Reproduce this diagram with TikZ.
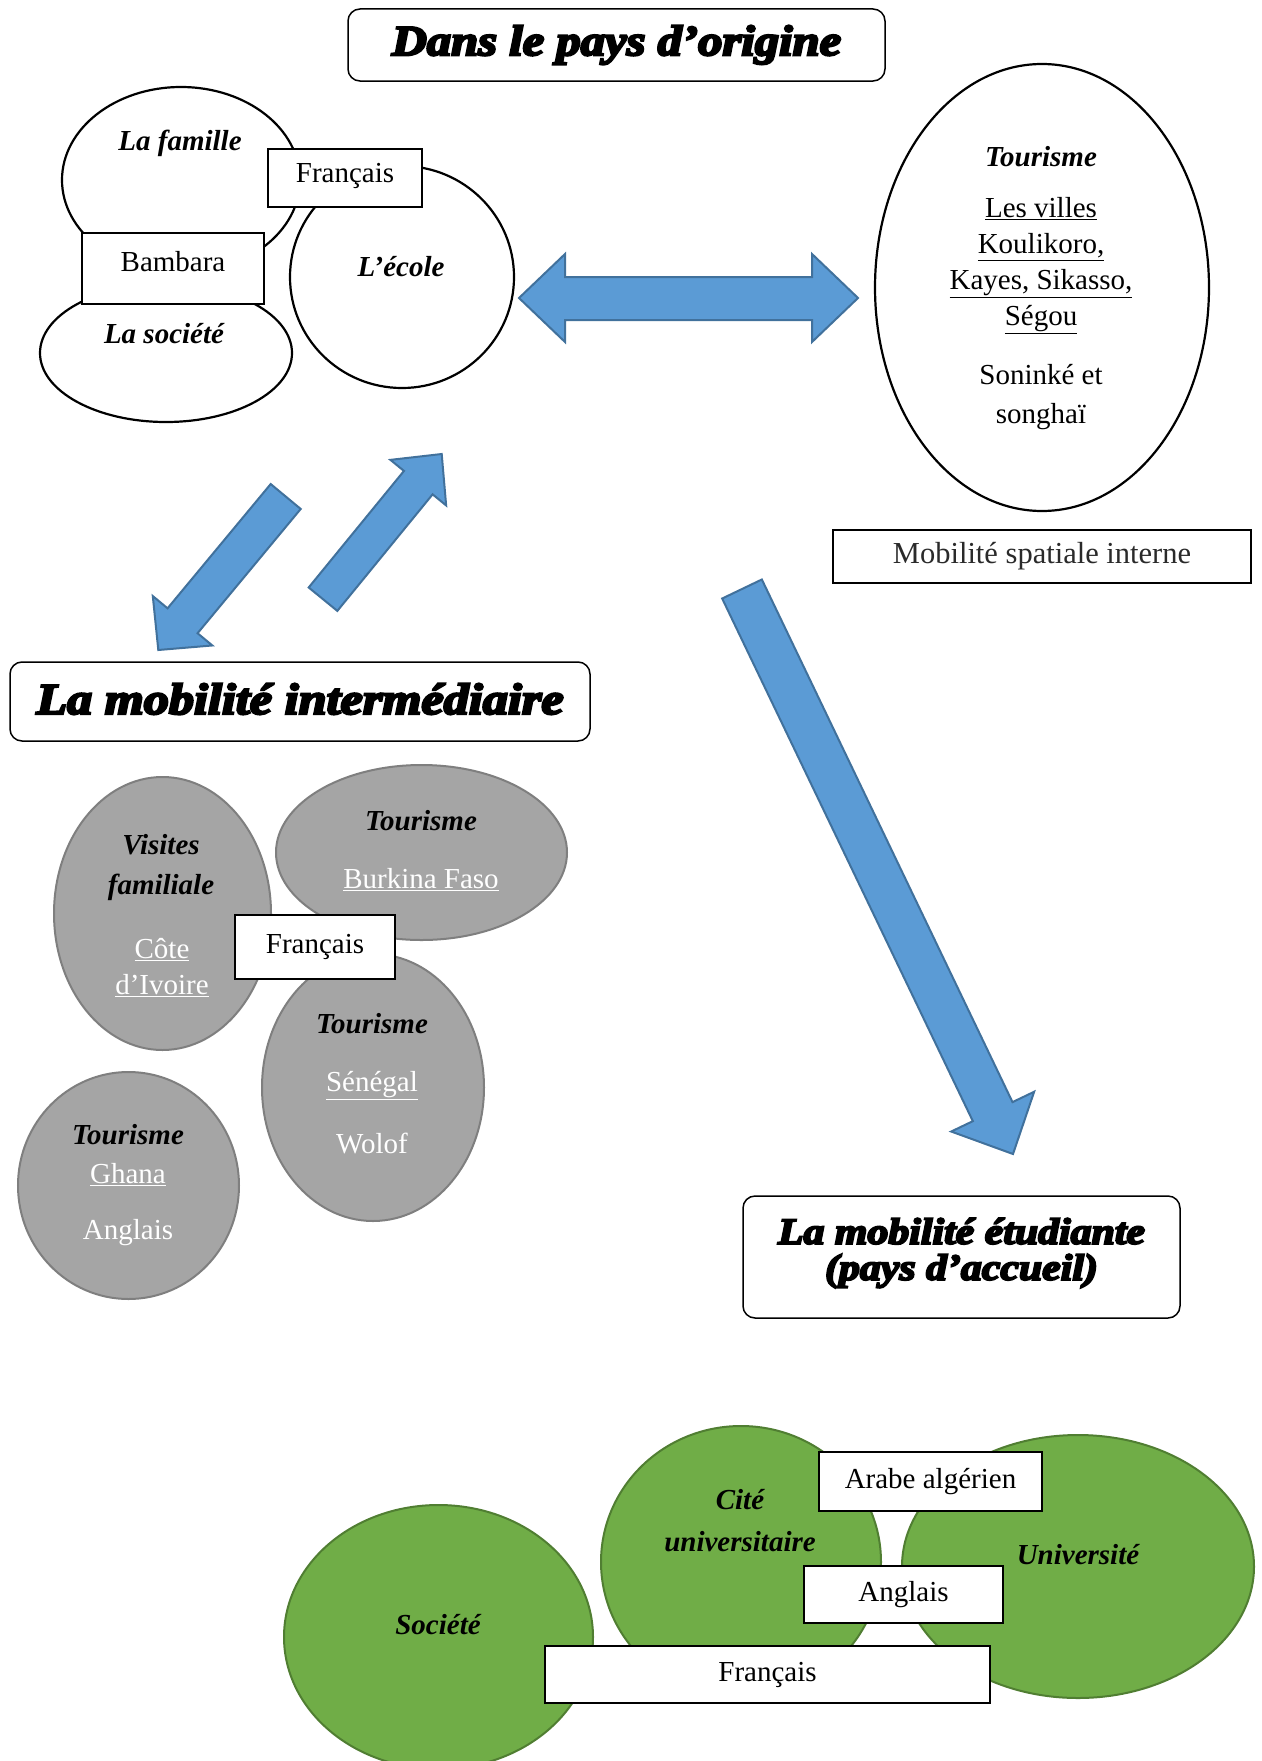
\documentclass[tikz,border=0pt]{standalone}
\usepackage{fontspec}
\setmainfont{Liberation Serif}
\usetikzlibrary{shapes.geometric,calc}
\definecolor{arrowfill}{HTML}{5B9BD5}
\definecolor{arrowline}{HTML}{41719C}
\definecolor{grayfill}{HTML}{A5A5A5}
\definecolor{grayline}{HTML}{7F7F7F}
\definecolor{greenfill}{HTML}{70AD47}
\definecolor{greenline}{HTML}{507E32}
\definecolor{spatial}{HTML}{2A2A2A}
\newcommand\fatsize[1]{\fontsize{#1}{#1}\bfseries\itshape\selectfont\addfontfeatures{FakeBold=5}}
\tikzset{
  txt/.style={font=\fontsize{29}{36}\selectfont, align=center, inner sep=0pt},
  bi/.style={font=\fontsize{29}{38}\selectfont\bfseries\itshape, align=center, inner sep=0pt},
  wtxt/.style={txt, text=white},
  oval/.style={ellipse, draw, line width=2.2pt, fill=white, inner sep=0pt},
  grayoval/.style={ellipse, draw=grayline, fill=grayfill, line width=2pt, inner sep=0pt},
  greenoval/.style={ellipse, draw=greenline, fill=greenfill, line width=2pt, inner sep=0pt},
  labelbox/.style={rectangle, draw, fill=white, line width=1.5pt, inner sep=0pt, font=\fontsize{29}{36}\selectfont},
  titlebox/.style={rectangle, rounded corners=12pt, draw, fill=white, line width=1.5pt, inner sep=0pt},
  titletext/.style={inner sep=0pt, align=center, xscale=1.13},
  blockarrow/.style={fill=arrowfill, draw=arrowline, line width=2pt, line join=miter},
}
\newcommand\myblockarrow[5]{%
  \coordinate (ba-t) at #1;
  \coordinate (ba-h) at #2;
  \coordinate (ba-b) at ($(ba-h)!#5!(ba-t)$);
  \filldraw[blockarrow] ($(ba-t)!#3!90:(ba-h)$) -- ($(ba-b)!#3!-90:(ba-t)$) -- ($(ba-b)!#4!-90:(ba-t)$) -- (ba-h) -- ($(ba-b)!#4!90:(ba-t)$) -- ($(ba-b)!#3!90:(ba-t)$) -- ($(ba-t)!#3!-90:(ba-h)$) -- cycle;
}
\begin{document}
\begin{tikzpicture}[x=1pt,y=-1pt]
\useasboundingbox (0,0) rectangle (1261,1761);
\clip (0,0) rectangle (1261,1761);
\fill[white] (0,0) rectangle (1261,1761);

% ---------- pays d'origine ----------
\node[titlebox, minimum width=537pt, minimum height=72pt] (t1) at (616.5,45) {};
\node[titletext, font=\fatsize{43}] (t1txt) at (616.5,45) {Dans le pays d’origine};

\node[oval, minimum width=238pt, minimum height=186pt] (famille) at (181,180) {};
\node[oval, minimum width=252pt, minimum height=138pt] (societe) at (166,353) {};
\node[oval, minimum width=224pt, minimum height=222pt] (ecole) at (402,277) {};
\node[labelbox, minimum width=154pt, minimum height=58pt] (fr1) at (345,178) {};
\node[txt] (fr1txt) at (345,176) {Français};
\node[labelbox, minimum width=182pt, minimum height=71pt] (bam) at (173,268.5) {};
\node[txt] (bamtxt) at (173,262) {Bambara};
\node[bi] (lfam) at (180,143) {La famille};
\node[bi] (lsoc) at (164,334) {La société};
\node[bi] (lecole) at (401,267) {L’école};

\node[oval, minimum width=334pt, minimum height=447pt] (tour) at (1042,287.5) {};
\node[bi] (ltour) at (1041,157) {Tourisme};
\node[txt] (villes) at (1041,266) {\underline{Les villes}\\\underline{Koulikoro,}\\\underline{Kayes, Sikasso,}\\\underline{Ségou}};
\node[txt, font=\fontsize{29}{39}\selectfont] (soninke) at (1041,397) {Soninké et\\songhaï};

\node[rectangle, draw, line width=1.5pt, minimum width=418pt, minimum height=53pt, inner sep=0pt, text=spatial, font=\fontsize{30.5}{36}\selectfont] (spat) at (1042,556.5) {Mobilité spatiale interne};

% horizontal double arrow
\filldraw[blockarrow] (519,298) -- (565,254) -- (565,277) -- (812,277) -- (812,254) -- (858,298) -- (812,342) -- (812,320) -- (565,320) -- (565,342) -- cycle;

% diagonal arrows
\myblockarrow{(285.7,496.5)}{(158.3,650)}{19.5pt}{38.7pt}{38pt}
\myblockarrow{(323,599.2)}{(441.7,454)}{18.5pt}{36pt}{37pt}
\myblockarrow{(742,589)}{(1013,1154)}{22pt}{46pt}{47pt}

% ---------- mobilité intermédiaire ----------
\node[titlebox, minimum width=580pt, minimum height=79pt] (t2) at (300,701.5) {};
\node[titletext, font=\fatsize{44}, xscale=1.01] (t2txt) at (300,699) {La mobilité intermédiaire};

\node[grayoval, minimum width=217pt, minimum height=273pt] (visites) at (162.5,913.5) {};
\node[grayoval, minimum width=291pt, minimum height=175pt] (burkina) at (421.5,852.5) {};
\node[grayoval, minimum width=222pt, minimum height=267pt] (senegal) at (373,1087.5) {};
\node[grayoval, minimum width=221pt, minimum height=227pt] (ghana) at (128.5,1185.5) {};
\node[labelbox, minimum width=160pt, minimum height=64pt] (fr2) at (315,947) {Français};

\node[bi, font=\fontsize{29}{40}\selectfont\bfseries\itshape] (lvis) at (161,868) {Visites\\familiale};
\node[wtxt] (cote) at (162,968) {\underline{Côte}\\\underline{d’Ivoire}};
\node[bi] (ltb) at (421,821) {Tourisme};
\node[wtxt] (bf) at (421,880) {\underline{Burkina Faso}};
\node[bi] (lts) at (372,1024) {Tourisme};
\node[wtxt] (sen) at (372,1086) {\underline{Sénégal}};
\node[wtxt] (wolof) at (372,1143) {Wolof};
\node[bi] (ltg) at (128,1135) {Tourisme};
\node[wtxt] (gh) at (128,1175) {\underline{Ghana}};
\node[wtxt] (angl1) at (128,1233) {Anglais};

% ---------- mobilité étudiante ----------
\node[titlebox, minimum width=437pt, minimum height=122pt] (t3) at (961.5,1257) {};
\node[titletext, font=\fatsize{37}, text depth=0pt] (t3a) at (961.5,1231) {La mobilité étudiante};
\node[titletext, font=\fatsize{37}] (t3b) at (961.5,1271) {(pays d’accueil)};

\node[greenoval, minimum width=309pt, minimum height=264pt] (soc2) at (438.5,1637) {};
\node[greenoval, minimum width=280pt, minimum height=272pt] (cite) at (741,1562) {};
\node[greenoval, minimum width=352pt, minimum height=263pt] (univ) at (1078,1566.5) {};
\node[labelbox, minimum width=223pt, minimum height=59pt] (arabe) at (930.5,1481.5) {Arabe algérien};
\node[labelbox, minimum width=199pt, minimum height=57pt] (angl2) at (903.5,1594.5) {Anglais};
\node[labelbox, minimum width=445pt, minimum height=57pt] (fr3) at (767.5,1674.5) {Français};

\node[bi] (lsoc2) at (438,1625) {Société};
\node[bi, font=\fontsize{29}{42}\selectfont\bfseries\itshape] (lcite) at (740,1521) {Cité\\universitaire};
\node[bi] (luniv) at (1078,1555) {Université};
\end{tikzpicture}
\end{document}
